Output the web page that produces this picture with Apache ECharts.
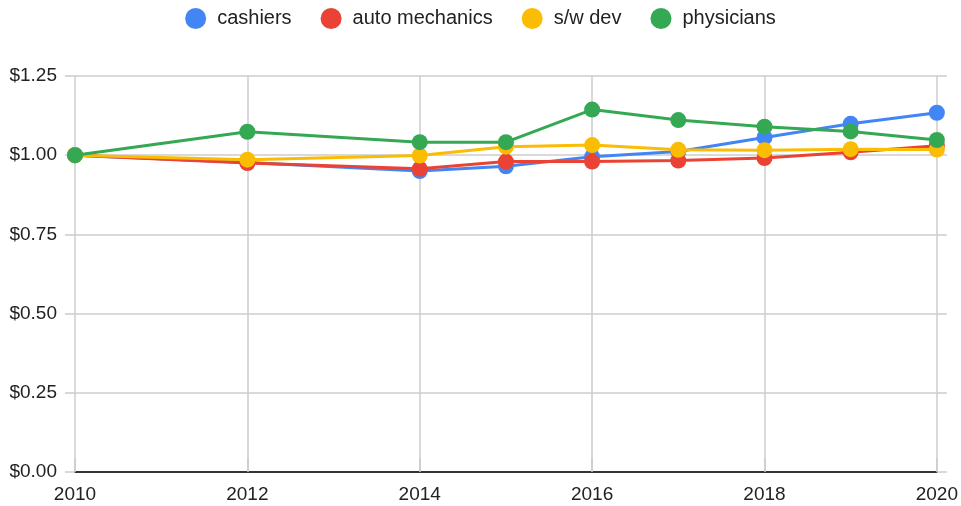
<!DOCTYPE html>
<html>
<head>
<meta charset="utf-8">
<script src="https://cdn.jsdelivr.net/npm/echarts@6/dist/echarts.min.js"></script>
<style>
  html, body { margin: 0; padding: 0; background: #fff; }
  #chart { width: 961px; height: 506px; }
</style>
</head>
<body>
<div id="chart"></div>
<script>
// years with data points
const years = [2010, 2012, 2014, 2015, 2016, 2017, 2018, 2019, 2020]
const cashiers = [1.00, 0.977, 0.950, 0.965, 0.995, 1.012, 1.056, 1.099, 1.134]
const autoMechanics = [1.00, 0.975, 0.957, 0.980, 0.980, 0.983, 0.991, 1.009, 1.030]
const swDev = [1.00, 0.986, 0.999, 1.027, 1.032, 1.017, 1.016, 1.019, 1.018]
const physicians = [1.00, 1.074, 1.041, 1.041, 1.144, 1.111, 1.090, 1.075, 1.048]

const seriesNames = ['cashiers', 'auto mechanics', 's/w dev', 'physicians']
const seriesValues = [cashiers, autoMechanics, swDev, physicians]
const colors = ['#4285F4', '#EA4335', '#FBBC04', '#34A853']

const font = 'Arial, "Liberation Sans", sans-serif'
const chart = echarts.init(document.getElementById('chart'))

const options = {
  animation: false,
  color: colors,
  textStyle: { fontFamily: font },
  legend: {
    top: 3,
    left: 'center',
    icon: 'circle',
    itemWidth: 21,
    itemHeight: 21,
    itemGap: 29,
    textStyle: { fontSize: 20, color: '#222', fontFamily: font, padding: [0, 0, 0, 6] },
    data: seriesNames
  },
  grid: { left: 75, right: 20, top: 76, bottom: 34 },
  xAxis: [
    {
      type: 'value',
      min: 2010,
      max: 2020,
      interval: 2,
      axisLine: { show: true, lineStyle: { color: '#333', width: 2 } },
      axisTick: { show: false },
      axisLabel: {
        margin: 13,
        fontSize: 19,
        color: '#222',
        fontFamily: font,
        formatter: (v) => String(v)
      },
      splitLine: { show: true, lineStyle: { color: '#ccc', width: 1.5 } }
    },
    {
      // only used to extend vertical gridlines above the plot
      type: 'value',
      position: 'top',
      min: 2010,
      max: 2020,
      interval: 2,
      axisLine: { show: false },
      axisTick: { show: true, length: 14, lineStyle: { color: '#ccc', width: 1.5 } },
      axisLabel: { show: false },
      splitLine: { show: false }
    }
  ],
  yAxis: [
    {
      type: 'value',
      min: 0,
      max: 1.25,
      interval: 0.25,
      axisLine: { show: false },
      axisTick: { show: true, length: 10, lineStyle: { color: '#ccc', width: 1.5 } },
      axisLabel: {
        margin: 18,
        fontSize: 19,
        color: '#222',
        fontFamily: font,
        formatter: (v) => '$' + v.toFixed(2)
      },
      splitLine: { show: true, lineStyle: { color: '#ccc', width: 1.5 } }
    },
    {
      type: 'value',
      position: 'right',
      min: 0,
      max: 1.25,
      interval: 0.25,
      axisLine: { show: false },
      axisTick: { show: true, length: 10, lineStyle: { color: '#ccc', width: 1.5 } },
      axisLabel: { show: false },
      splitLine: { show: false }
    }
  ],
  series: seriesNames.map((name, i) => ({
    name: name,
    type: 'line',
    data: years.map((y, j) => [y, seriesValues[i][j]]),
    symbol: 'circle',
    symbolSize: 16,
    lineStyle: { width: 3 },
    z: 2 + i
  }))
}
chart.setOption(options)
</script>
</body>
</html>
